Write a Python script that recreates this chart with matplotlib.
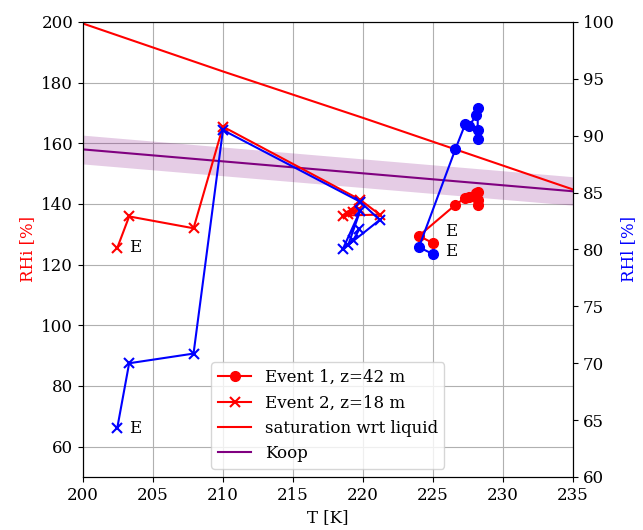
import numpy as np
import matplotlib.pyplot as plt

plt.rcParams['font.family'] = 'serif'
plt.rcParams['font.size'] = 12

# Event 1 (z=42 m)
T1 = [225.0, 224.0, 226.6, 227.3, 227.6, 228.1, 228.2, 228.2, 228.2]
RHi1 = [127.1, 129.5, 139.7, 142.0, 142.3, 143.6, 144.0, 141.4, 139.8]
RHl1 = [79.6, 80.2, 88.8, 91.0, 90.9, 91.8, 92.4, 90.5, 89.7]

# Event 2 (z=18 m)
T2 = [202.45, 203.3, 207.9, 210.0, 219.8, 221.2, 218.55, 219.8, 218.95, 219.3, 219.75]
RHi2 = [125.5, 135.9, 132.0, 165.5, 141.4, 136.5, 136.2, 140.5, 136.7, 137.2, 138.5]
RHl2 = [64.3, 70.0, 70.85, 90.5, 84.2, 82.6, 80.0, 83.4, 80.4, 80.8, 81.8]

# saturation wrt liquid, expressed as RHi
T_sat = [200, 210, 220, 235]
RH_sat = [199.5, 183.7, 168.4, 144.8]

# Koop homogeneous freezing line with band
T_koop = [200, 235]
koop = [158.0, 144.2]
koop_hi = [162.7, 149.0]
koop_lo = [153.2, 139.6]

fig = plt.figure(figsize=(6.43, 5.3), dpi=100)
ax1 = fig.add_axes([0.129, 0.1, 0.762, 0.8585])
ax2 = ax1.twinx()

ax1.grid(True, color='#b0b0b0')
ax1.set_axisbelow(True)

ax1.fill_between(T_koop, koop_lo, koop_hi, color='purple', alpha=0.2, lw=0)
l_koop, = ax1.plot(T_koop, koop, color='purple', lw=1.5, label='Koop')
l_sat, = ax1.plot(T_sat, RH_sat, color='red', lw=1.5, label='saturation wrt liquid')

l_e1, = ax1.plot(T1, RHi1, 'o-', color='red', ms=7, lw=1.5, label='Event 1, z=42 m')
l_e2, = ax1.plot(T2, RHi2, 'x-', color='red', ms=7, mew=1.5, lw=1.5, label='Event 2, z=18 m')
ax2.plot(T1, RHl1, 'o-', color='blue', ms=7, lw=1.5)
ax2.plot(T2, RHl2, 'x-', color='blue', ms=7, mew=1.5, lw=1.5)

ax1.text(T2[0] + 0.85, RHi2[0], 'E', ha='left', va='center')
ax2.text(T2[0] + 0.85, RHl2[0], 'E', ha='left', va='center')
ax1.text(225.9, 131.0, 'E', ha='left', va='center')
ax2.text(225.9, 79.8, 'E', ha='left', va='center')

ax1.set_xlim(200, 235)
ax1.set_ylim(50, 200)
ax1.set_yticks(np.arange(60, 201, 20))
ax2.set_ylim(60, 100)
ax2.set_yticks(np.arange(60, 101, 5))

ax1.set_xlabel('T [K]')
ax1.set_ylabel('RHi [%]', color='red')
ax2.set_ylabel('RHl [%]', color='blue')

ax2.legend(handles=[l_e1, l_e2, l_sat, l_koop], loc='lower center')

fig.savefig('out.png', dpi=100)
